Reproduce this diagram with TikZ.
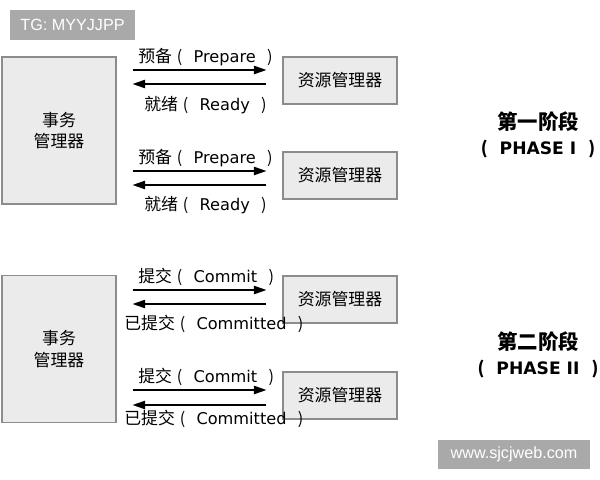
\documentclass[tikz,border=0pt]{standalone}
\usepackage{fontspec}
\setmainfont{DejaVu Sans}
\newfontfamily\cjk{Noto Sans CJK SC}
\newfontfamily\wmfont{Liberation Sans}
\usetikzlibrary{arrows.meta}
\definecolor{boxgray}{HTML}{EBEBEB}
\definecolor{linegray}{HTML}{8C8C8C}
\definecolor{wmgray}{HTML}{A9A9A9}
\newcommand{\zh}[1]{{\cjk #1}}
\newcommand{\klammer}[2]{\zh{\fontsize{12}{13}\selectfont #1}\hspace{0.3em}\zh{(}\hspace{0.7em}#2\hspace{0.7em}\zh{)}}

\tikzset{
	box/.style = {draw = linegray, fill = boxgray, line width = 0.8pt, inner sep = 0pt, font = \cjk\fontsize{12}{15.5}\selectfont},
	tmbox/.style = {box, minimum width = 2.85cm, minimum height = 3.675cm, align = center},
	rmbox/.style = {box, minimum width = 2.85cm, minimum height = 1.175cm},
	msg/.style = {anchor = base west, inner sep = 0pt, font = \fontsize{11.5}{13}\selectfont},
	msgline/.style = {-{Triangle[length = 9pt, width = 6pt]}, line width = 0.9pt, shorten < = 0.4cm, shorten > = 0.4cm},
	phase/.style = {align = center, inner sep = 0pt, font = \bfseries\fontsize{12.2}{17.7}\selectfont},
	wm/.style = {fill = wmgray, text = white, inner sep = 0pt, font = \wmfont\fontsize{11.5}{13}\selectfont}
}

\begin{document}
\begin{tikzpicture}[x = 0.025cm, y = -0.025cm]
	\useasboundingbox (0,0) rectangle (600,480);
	\node[wm, minimum width = 3.125cm, minimum height = 0.75cm] (tg) at (72.5,25) {TG: MYYJJPP};
	\node[tmbox] (tm1) at (59,130.5) {事务\\管理器};
	\node[rmbox] (rm1) at (340,80.5) {资源管理器};
	\node[rmbox] (rm2) at (340,175.5) {资源管理器};
	\draw[msgline] (tm1.east |- 0,70) -- (rm1.west |- 0,70);
	\draw[msgline] (rm1.west |- 0,84) -- (tm1.east |- 0,84);
	\draw[msgline] (tm1.east |- 0,171) -- (rm2.west |- 0,171);
	\draw[msgline] (rm2.west |- 0,185) -- (tm1.east |- 0,185);
	\node[msg] (p1) at (138,62) {\klammer{预备}{Prepare}};
	\node[msg] (r1) at (144,110) {\klammer{就绪}{Ready}};
	\node[msg] (p2) at (138,163) {\klammer{预备}{Prepare}};
	\node[msg] (r2) at (144,210) {\klammer{就绪}{Ready}};
	\node[phase] (ph1) at (538,135) {\zh{\fontsize{14.5}{17.7}\selectfont 第一阶段}\\\zh{(}\hspace{0.7em}PHASE I\hspace{0.7em}\zh{)}};

	\node[tmbox] (tm2) at (59,349) {事务\\管理器};
	\node[rmbox] (rm3) at (340,299.5) {资源管理器};
	\node[rmbox] (rm4) at (340,395.5) {资源管理器};
	\draw[msgline] (tm2.east |- 0,290) -- (rm3.west |- 0,290);
	\draw[msgline] (rm3.west |- 0,304) -- (tm2.east |- 0,304);
	\draw[msgline] (tm2.east |- 0,390) -- (rm4.west |- 0,390);
	\draw[msgline] (rm4.west |- 0,405) -- (tm2.east |- 0,405);
	\node[msg] (c1) at (138,282) {\klammer{提交}{Commit}};
	\node[msg] (d1) at (124,329) {\klammer{已提交}{Committed}};
	\node[msg] (c2) at (138,382) {\klammer{提交}{Commit}};
	\node[msg] (d2) at (124,424) {\klammer{已提交}{Committed}};
	\node[phase] (ph2) at (538,355) {\zh{\fontsize{14.5}{17.7}\selectfont 第二阶段}\\\zh{(}\hspace{0.7em}PHASE II\hspace{0.7em}\zh{)}};
	\node[wm, minimum width = 3.8cm, minimum height = 0.725cm] (web) at (514,454.5) {www.sjcjweb.com};
\end{tikzpicture}
\end{document}
